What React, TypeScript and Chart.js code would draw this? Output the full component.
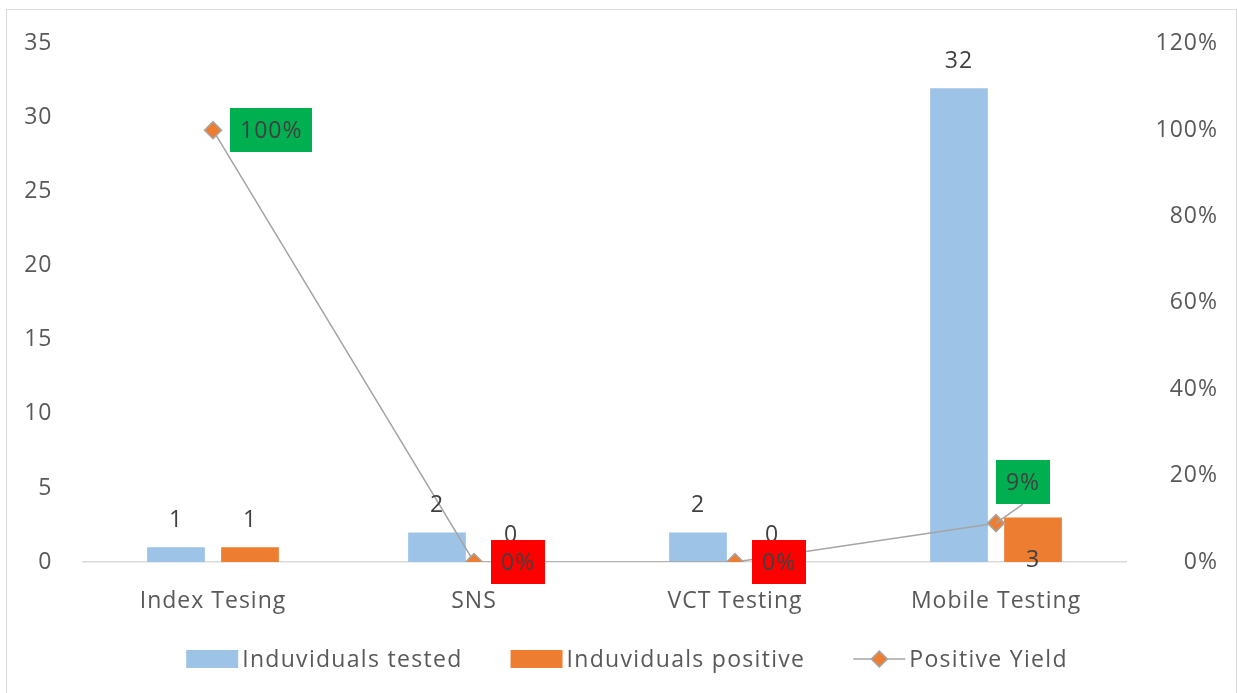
import React, { useEffect, useRef } from 'react';
import { Chart, registerables } from 'chart.js';

Chart.register(...registerables);

// ---- data ----
const categories = ['Index Tesing', 'SNS', 'VCT Testing', 'Mobile Testing'];
const individualsTested = [1, 2, 2, 32];
const individualsPositive = [1, 0, 0, 3];
const positiveYield = [1.0, 0, 0, 0.09];

const countAxisMax = 35;
const countAxisStep = 5;
const yieldAxisMax = 1.2;
const yieldAxisStep = 0.2;

// ---- styling ----
const FONT = '"Open Sans", Lato, sans-serif';
const FONT_SIZE = 23;
const TEXT_SPACING = '1px';
const LEGEND_SPACING = '1.3px';
const BLUE = '#9DC3E6';
const ORANGE = '#ED7D31';
const LINE_GREY = '#A5A5A5';
const TICK_COLOR = '#595959';
const LABEL_COLOR = '#404040';
const GOOD_FILL = '#00B050';
const ZERO_FILL = '#FF0000';

// where each bar / yield label sits relative to its mark
const positiveLabelAtBase = [false, false, false, true];
const yieldLabelPlacement = ['right', 'right', 'right', 'above'];

const fmtPct = (v: number) => `${Math.round(v * 100)}%`;

const framePlugin = {
  id: 'frame',
  beforeDraw(chart: any) {
    const { ctx, width, height } = chart;
    ctx.save();
    ctx.fillStyle = '#ffffff';
    ctx.fillRect(0, 0, width, height);
    ctx.strokeStyle = '#D9D9D9';
    ctx.lineWidth = 1;
    ctx.strokeRect(6.5, 9.5, width - 7, height);
    ctx.restore();
    // slightly wider text for axis labels
    (ctx as any).letterSpacing = TEXT_SPACING;
  },
};

const labelsPlugin = {
  id: 'valueLabels',
  afterDatasetsDraw(chart: any) {
    const { ctx } = chart;
    ctx.save();
    ctx.font = `${FONT_SIZE}px ${FONT}`;
    ctx.textAlign = 'center';
    ctx.textBaseline = 'middle';

    // bar values
    [0, 1].forEach((di) => {
      const meta = chart.getDatasetMeta(di);
      const values = chart.data.datasets[di].data as number[];
      meta.data.forEach((bar: any, i: number) => {
        const atBase = di === 1 && positiveLabelAtBase[i];
        const y = atBase ? bar.base - 2 : bar.y - 27;
        ctx.fillStyle = LABEL_COLOR;
        ctx.fillText(String(values[i]), bar.x, y);
      });
    });

    // yield labels in coloured boxes
    const lineMeta = chart.getDatasetMeta(2);
    const yields = chart.data.datasets[2].data as number[];
    lineMeta.data.forEach((pt: any, i: number) => {
      const text = fmtPct(yields[i]);
      const w = ctx.measureText(text).width + 20;
      const h = 44;
      let cx: number;
      let cy: number;
      if (yieldLabelPlacement[i] === 'above') {
        cx = pt.x + 27;
        cy = pt.y - 41;
        ctx.strokeStyle = LINE_GREY;
        ctx.lineWidth = 1.5;
        ctx.beginPath();
        ctx.moveTo(pt.x, pt.y);
        ctx.lineTo(cx, cy + h / 2);
        ctx.stroke();
      } else {
        cx = pt.x + 17 + w / 2;
        cy = pt.y;
      }
      ctx.fillStyle = yields[i] > 0 ? GOOD_FILL : ZERO_FILL;
      ctx.fillRect(Math.round(cx - w / 2), Math.round(cy - h / 2), Math.round(w), h);
      ctx.fillStyle = LABEL_COLOR;
      ctx.fillText(text, cx, cy + 1);
    });
    ctx.restore();
  },
};

const legendPlugin = {
  id: 'bottomLegend',
  afterDraw(chart: any) {
    const { ctx } = chart;
    const datasets = chart.data.datasets;
    ctx.save();
    ctx.font = `${FONT_SIZE}px ${FONT}`;
    (ctx as any).letterSpacing = LEGEND_SPACING;
    ctx.textBaseline = 'middle';
    ctx.textAlign = 'left';
    const symW = 52;
    const gap = 4;
    const itemGap = 48;
    const widths = datasets.map((d: any) => symW + gap + ctx.measureText(d.label).width);
    const total = widths.reduce((a: number, b: number) => a + b, 0) + itemGap * (datasets.length - 1);
    let x = 627 - total / 2;
    const y = 659;
    datasets.forEach((d: any, i: number) => {
      if (d.type === 'line') {
        ctx.strokeStyle = LINE_GREY;
        ctx.lineWidth = 1.5;
        ctx.beginPath();
        ctx.moveTo(x, y);
        ctx.lineTo(x + symW, y);
        ctx.stroke();
        const mx = x + symW / 2;
        ctx.fillStyle = ORANGE;
        ctx.beginPath();
        ctx.moveTo(mx - 8, y);
        ctx.lineTo(mx, y - 8);
        ctx.lineTo(mx + 8, y);
        ctx.lineTo(mx, y + 8);
        ctx.closePath();
        ctx.fill();
        ctx.stroke();
      } else {
        ctx.fillStyle = d.backgroundColor;
        ctx.fillRect(x, y - 9, symW, 18);
      }
      ctx.fillStyle = TICK_COLOR;
      ctx.fillText(d.label, x + symW + gap, y + 1);
      x += widths[i] + itemGap;
    });
    ctx.restore();
  },
};

export default function App() {
  const canvasRef = useRef<HTMLCanvasElement>(null);

  useEffect(() => {
    const canvas = canvasRef.current;
    if (!canvas) return;
    const tickFont = { family: FONT, size: FONT_SIZE };
    const chart = new Chart(canvas, {
      type: 'bar',
      data: {
        labels: categories,
        datasets: [
          {
            type: 'bar',
            label: 'Induviduals tested',
            data: individualsTested,
            backgroundColor: BLUE,
            yAxisID: 'y',
            order: 1,
            categoryPercentage: 0.567,
            barPercentage: 0.78,
          },
          {
            type: 'bar',
            label: 'Induviduals positive',
            data: individualsPositive,
            backgroundColor: ORANGE,
            yAxisID: 'y',
            order: 1,
            categoryPercentage: 0.567,
            barPercentage: 0.78,
          },
          {
            type: 'line',
            label: 'Positive Yield',
            data: positiveYield,
            yAxisID: 'y1',
            order: 0,
            borderColor: LINE_GREY,
            borderWidth: 1.5,
            pointStyle: 'rectRot',
            pointRadius: 8.5,
            pointBackgroundColor: ORANGE,
            pointBorderColor: LINE_GREY,
            pointBorderWidth: 1.5,
            tension: 0,
          },
        ] as any,
      },
      options: {
        responsive: false,
        animation: false,
        layout: { padding: { top: 40, right: 19, bottom: 0, left: 0 } },
        plugins: {
          legend: { display: false },
          tooltip: { enabled: false },
        },
        scales: {
          x: {
            grid: { display: false, drawTicks: false },
            border: { display: true, color: '#D9D9D9', width: 1.5 },
            ticks: { color: TICK_COLOR, font: tickFont, padding: 26, maxRotation: 0 },
            afterFit: (s: any) => { s.height = 131; },
          },
          y: {
            position: 'left',
            min: 0,
            max: countAxisMax,
            grid: { display: false, drawTicks: false },
            border: { display: false },
            ticks: { stepSize: countAxisStep, color: TICK_COLOR, font: tickFont, padding: 30 },
            afterFit: (s: any) => { s.width = 82.5; },
          },
          y1: {
            position: 'right',
            min: 0,
            max: yieldAxisMax,
            grid: { display: false, drawTicks: false },
            border: { display: false },
            ticks: {
              stepSize: yieldAxisStep,
              color: TICK_COLOR,
              font: tickFont,
              crossAlign: 'far',
              callback: (v: any) => fmtPct(Number(v)),
            },
            afterFit: (s: any) => { s.width = 91.5; },
          },
        },
      } as any,
      plugins: [framePlugin, labelsPlugin, legendPlugin],
    });
    return () => chart.destroy();
  }, []);

  return (
    <div style={{ position: 'absolute', left: 0, top: 0, width: 1237, height: 693, background: '#fff' }}>
      <canvas ref={canvasRef} width={1237} height={693} style={{ display: 'block' }} />
    </div>
  );
}
